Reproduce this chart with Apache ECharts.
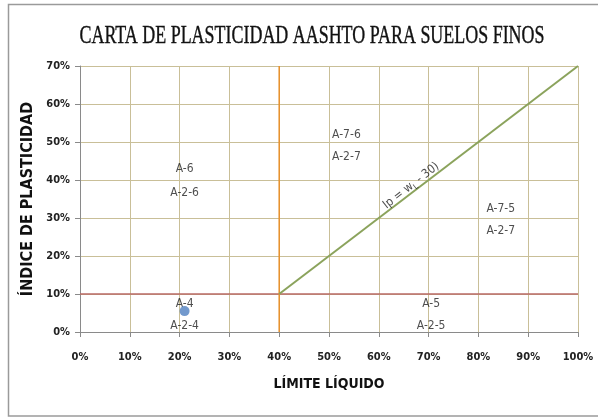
<!DOCTYPE html>
<html><head><meta charset="utf-8">
<script src="https://cdn.jsdelivr.net/npm/echarts@6/dist/echarts.min.js"></script>
<style>html,body{margin:0;padding:0;background:#fff}#c{width:598px;height:419px}</style>
</head><body><div id="c"></div>
<script>
// Data
var title = 'CARTA DE PLASTICIDAD AASHTO PARA SUELOS FINOS';
var xName = 'LÍMITE LÍQUIDO';
var yName = 'ÍNDICE DE PLASTICIDAD';
var samplePoint = [[21, 5.5]];
var lineLL40 = [[40, 0], [40, 70]];
var lineIP10 = [[0, 10], [100, 10]];
var lineAline = [[40, 10], [100, 70]];
var zoneLabels = [
  [21, 43, 'A-6'], [21, 36.5, 'A-2-6'],
  [53.5, 52, 'A-7-6'], [53.5, 46, 'A-2-7'],
  [84.5, 32.5, 'A-7-5'], [84.5, 26.5, 'A-2-7'],
  [21, 7.5, 'A-4'], [21, 1.5, 'A-2-4'],
  [70.5, 7.5, 'A-5'], [70.5, 1.5, 'A-2-5']
];
var eqLabel = [[66.5, 38.5]];

var NARROW = '"Liberation Sans Narrow", "DejaVu Sans Condensed", sans-serif';
var chart = echarts.init(document.getElementById('c'), null, {renderer: 'canvas'});
chart.setOption({
  backgroundColor: '#fff',
  animation: false,
  graphic: [
    {type: 'rect', shape: {x: 8.5, y: 4.5, width: 600, height: 411.5}, style: {fill: 'none', stroke: '#9a9a9a', lineWidth: 1.5}, z: 0},
    {type: 'text', x: 312, y: 36, scaleX: 0.69, style: {text: title, font: '26px "Liberation Serif", serif', fill: '#111', stroke: '#111', lineWidth: 0.4, textAlign: 'center', textVerticalAlign: 'middle'}}
  ],
  grid: {left: 80, right: 20, top: 66, bottom: 87},
  xAxis: {
    type: 'value', min: 0, max: 100, interval: 10,
    name: xName, nameLocation: 'middle', nameGap: 45,
    nameTextStyle: {fontFamily: NARROW, fontWeight: 'bold', fontSize: 14, color: '#111'},
    axisLine: {lineStyle: {color: '#8a8a8a', width: 1}},
    axisTick: {show: true, length: 5, lineStyle: {color: '#8a8a8a'}},
    axisLabel: {formatter: '{value}%', margin: 20, fontFamily: NARROW, fontSize: 11, fontWeight: 'bold', color: '#222'},
    splitLine: {lineStyle: {color: '#c9bf98', width: 1}}
  },
  yAxis: {
    type: 'value', min: 0, max: 70, interval: 10,
    name: yName, nameLocation: 'middle', nameGap: 40, nameRotate: 90,
    nameTextStyle: {fontFamily: NARROW, fontWeight: 'bold', fontSize: 16, color: '#111'},
    axisLine: {show: true, lineStyle: {color: '#8a8a8a', width: 1}},
    axisTick: {show: true, length: 5, lineStyle: {color: '#8a8a8a'}},
    axisLabel: {formatter: '{value}%', margin: 10, fontFamily: NARROW, fontSize: 11, fontWeight: 'bold', color: '#222'},
    splitLine: {lineStyle: {color: '#c9bf98', width: 1}}
  },
  series: [
    {type: 'line', data: lineIP10, symbol: 'none', lineStyle: {color: '#b86a66', width: 1.5}, z: 3},
    {type: 'line', data: lineLL40, symbol: 'none', lineStyle: {color: '#e8902a', width: 1.5}, z: 3},
    {type: 'line', data: lineAline, symbol: 'none', lineStyle: {color: '#8ba35c', width: 2}, z: 3},
    {type: 'scatter', data: zoneLabels, symbolSize: 0, z: 4,
     label: {show: true, position: 'inside', formatter: function(p){return p.data[2];}, fontFamily: NARROW, fontSize: 12, color: '#222'}},
    {type: 'scatter', data: eqLabel, symbolSize: 0, z: 4,
     label: {show: true, position: 'inside', rotate: 38,
       formatter: 'Ip = w{s|L} - 30)', fontFamily: NARROW, fontSize: 12, color: '#222',
       rich: {s: {fontSize: 8, fontFamily: NARROW, color: '#222', padding: [8, 0, 0, 0]}}}},
    {type: 'scatter', data: samplePoint, symbol: 'circle', symbolSize: 10, itemStyle: {color: '#4f7fc0'}, z: 5}
  ]
});
</script></body></html>
